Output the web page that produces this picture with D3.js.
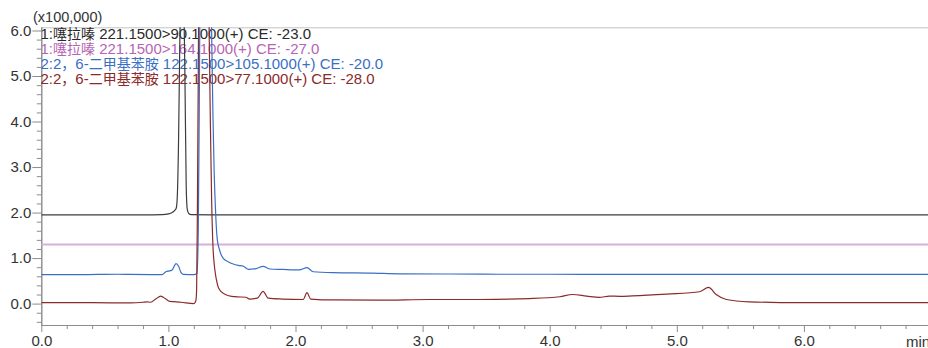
<!DOCTYPE html>
<html>
<head>
<meta charset="utf-8">
<script src="https://cdn.jsdelivr.net/npm/d3@7"></script>
<style>
  html, body { margin: 0; padding: 0; background: #fff; }
  svg { display: block; }
  text { font-family: "Liberation Sans", Arial, "Noto Sans CJK SC", sans-serif; }
</style>
</head>
<body>
<svg id="chart" width="928" height="348"></svg>
<script>
// MRM chromatogram traces: [time (min), intensity (x100,000)]
const xylazine90 = [
  [0.00,1.95],[0.40,1.95],[0.80,1.95],[0.95,1.955],[1.00,1.97],[1.03,2.00],[1.05,2.05],
  [1.062,2.10],[1.07,2.35],[1.08,3.6],[1.09,5.8],[1.10,7.2],[1.11,7.6],[1.12,6.9],
  [1.13,5.0],[1.14,2.6],[1.148,2.08],[1.16,1.98],[1.18,1.955],[1.40,1.95],[2.00,1.95],
  [3.00,1.95],[4.00,1.95],[5.00,1.95],[6.00,1.95],[7.00,1.95]
];
const xylazine164 = [
  [0.00,1.30],[1.00,1.30],[2.00,1.30],[3.00,1.30],[4.00,1.30],[5.00,1.30],[6.00,1.30],[7.00,1.30]
];
const dmAniline105 = [
  [0.00,0.635],[0.30,0.635],[0.60,0.645],[0.70,0.64],[0.95,0.635],[0.98,0.70],[1.01,0.72],
  [1.03,0.74],[1.06,0.88],[1.08,0.82],[1.10,0.68],[1.12,0.64],[1.20,0.635],[1.225,0.66],
  [1.235,1.6],[1.242,4.0],[1.248,6.5],[1.26,8.5],[1.30,9.0],[1.33,7.5],[1.34,6.0],
  [1.35,4.2],[1.36,2.9],[1.37,2.1],[1.383,1.45],[1.40,1.20],[1.43,1.00],[1.47,0.92],
  [1.51,0.87],[1.55,0.84],[1.59,0.82],[1.63,0.75],[1.66,0.76],[1.69,0.77],[1.745,0.82],
  [1.80,0.76],[1.90,0.75],[2.03,0.74],[2.09,0.79],[2.14,0.70],[2.30,0.68],[2.60,0.67],
  [2.82,0.655],[3.20,0.65],[3.60,0.645],[4.00,0.645],[4.50,0.64],[5.00,0.64],[6.00,0.64],
  [7.00,0.64]
];
const dmAniline77 = [
  [0.00,0.02],[0.40,0.02],[0.70,0.015],[0.80,0.03],[0.83,0.04],[0.86,0.03],[0.90,0.10],
  [0.94,0.165],[0.98,0.10],[1.01,0.05],[1.10,0.03],[1.20,0.00],[1.215,0.05],[1.222,0.3],
  [1.228,2.0],[1.235,5.0],[1.24,7.0],[1.27,9.0],[1.31,8.0],[1.32,6.1],[1.33,4.0],
  [1.34,2.3],[1.35,1.3],[1.36,0.88],[1.37,0.65],[1.378,0.52],[1.39,0.38],[1.404,0.30],
  [1.43,0.23],[1.457,0.19],[1.50,0.16],[1.536,0.15],[1.61,0.14],[1.64,0.10],[1.70,0.12],
  [1.745,0.27],[1.785,0.12],[1.90,0.10],[2.06,0.09],[2.09,0.24],[2.12,0.10],[2.30,0.08],
  [2.66,0.077],[3.06,0.09],[3.45,0.09],[3.84,0.11],[4.08,0.15],[4.18,0.20],[4.29,0.165],
  [4.39,0.136],[4.47,0.165],[4.55,0.16],[4.65,0.17],[4.92,0.21],[5.18,0.26],[5.25,0.356],
  [5.31,0.20],[5.39,0.09],[5.57,0.04],[5.96,0.02],[6.50,0.02],[7.00,0.02]
];

// Legend entries and colours
const seriesNames = [
  "1:噻拉嗪 221.1500>90.1000(+) CE: -23.0",
  "1:噻拉嗪 221.1500>164.1000(+) CE: -27.0",
  "2:2，6-二甲基苯胺 122.1500>105.1000(+) CE: -20.0",
  "2:2，6-二甲基苯胺 122.1500>77.1000(+) CE: -28.0"
];
const seriesData = [xylazine90, xylazine164, dmAniline105, dmAniline77];
const lineColors = ["#3c3c3c", "#d8b0d8", "#3a6fc4", "#8b2a2a"];
const textColors = ["#2a2a2a", "#b565b5", "#3a6fc4", "#8b2a2a"];
const lineWidths = [1.2, 2, 1.2, 1.2];

// Axis ticks
const xMajor = [0, 1, 2, 3, 4, 5, 6];
const xMinor = [0.2,0.4,0.6,0.8,1.2,1.4,1.6,1.8,2.2,2.4,2.6,2.8,3.2,3.4,3.6,3.8,4.2,4.4,4.6,4.8,5.2,5.4,5.6,5.8,6.2,6.4,6.6,6.8];
const yMajor = [0, 1, 2, 3, 4, 5, 6];
const yMinor = [-0.4,-0.2,0.2,0.4,0.6,0.8,1.2,1.4,1.6,1.8,2.2,2.4,2.6,2.8,3.2,3.4,3.6,3.8,4.2,4.4,4.6,4.8,5.2,5.4,5.6,5.8];

const svg = d3.select("#chart");
const plotLeft = 41.3, plotTop = 27.3, plotBottom = 325, plotRight = 928;

const x = d3.scaleLinear().domain([0, 7]).range([plotLeft, plotLeft + 7 * 127.1]);
const y = d3.scaleLinear().domain([-0.47, 6.07]).range([plotBottom, plotTop]);

const axisColor = "#8c8c8c";
const labelColor = "#333";

// top frame line
svg.append("line")
  .attr("x1", plotLeft).attr("x2", plotRight).attr("y1", plotTop + 0.5).attr("y2", plotTop + 0.5)
  .attr("stroke", "#c4c4c4").attr("stroke-width", 1);

// clip region for traces
svg.append("clipPath").attr("id", "plotClip")
  .append("rect").attr("x", plotLeft).attr("y", plotTop)
  .attr("width", plotRight - plotLeft).attr("height", plotBottom - plotTop);

// y axis
const yAxisMajor = svg.append("g").attr("transform", `translate(${plotLeft},0)`)
  .call(d3.axisLeft(y).tickValues(yMajor).tickSize(9).tickPadding(1).tickFormat(d3.format(".1f")));
const yAxisMinor = svg.append("g").attr("transform", `translate(${plotLeft},0)`)
  .call(d3.axisLeft(y).tickValues(yMinor).tickSize(4.5).tickFormat(""));
[yAxisMajor, yAxisMinor].forEach(g => {
  g.select(".domain").attr("stroke", axisColor).attr("d", `M0.5,${plotTop}V${plotBottom}`);
  g.selectAll(".tick line").attr("stroke", axisColor);
});
yAxisMajor.selectAll(".tick text")
  .attr("fill", labelColor).attr("font-size", 15).attr("font-family", "Liberation Sans, Arial, sans-serif");

// x axis
const xAxisMajor = svg.append("g").attr("transform", `translate(0,${plotBottom})`)
  .call(d3.axisBottom(x).tickValues(xMajor).tickSize(7).tickPadding(3).tickFormat(d3.format(".1f")));
const xAxisMinor = svg.append("g").attr("transform", `translate(0,${plotBottom})`)
  .call(d3.axisBottom(x).tickValues(xMinor).tickSize(4).tickFormat(""));
[xAxisMajor, xAxisMinor].forEach(g => {
  g.select(".domain").attr("stroke", axisColor).attr("d", `M${plotLeft},0.5H${plotRight}`);
  g.selectAll(".tick line").attr("stroke", axisColor);
});
xAxisMajor.selectAll(".tick text")
  .attr("fill", labelColor).attr("font-size", 15).attr("font-family", "Liberation Sans, Arial, sans-serif");

// axis unit labels
svg.append("text").attr("x", 33).attr("y", 22)
  .attr("font-size", 14.5).attr("fill", labelColor).text("(x100,000)");
svg.append("text").attr("x", 906).attr("y", 347)
  .attr("font-size", 15).attr("fill", labelColor).text("min");

// legend: Latin runs at 15px, CJK runs set a little smaller
const cjkRun = /([\u3000-\u9fff\uff00-\uffef]+)/;
const legend = svg.append("g").selectAll("text").data(seriesNames).join("text")
  .attr("x", 40.5).attr("y", (d, i) => 38.5 + i * 15.3)
  .attr("font-size", 15).attr("fill", (d, i) => textColors[i]);
legend.selectAll("tspan")
  .data(d => d.split(cjkRun).filter(s => s.length))
  .join("tspan")
  .attr("font-size", s => cjkRun.test(s) ? 14 : 15)
  .text(s => s);

// traces
const line = d3.line().x(d => x(d[0])).y(d => y(d[1])).curve(d3.curveMonotoneX);
svg.append("g").attr("clip-path", "url(#plotClip)")
  .selectAll("path").data(seriesData).join("path")
  .attr("d", line)
  .attr("fill", "none")
  .attr("stroke", (d, i) => lineColors[i])
  .attr("stroke-width", (d, i) => lineWidths[i])
  .attr("stroke-linejoin", "round");
</script>
</body>
</html>
